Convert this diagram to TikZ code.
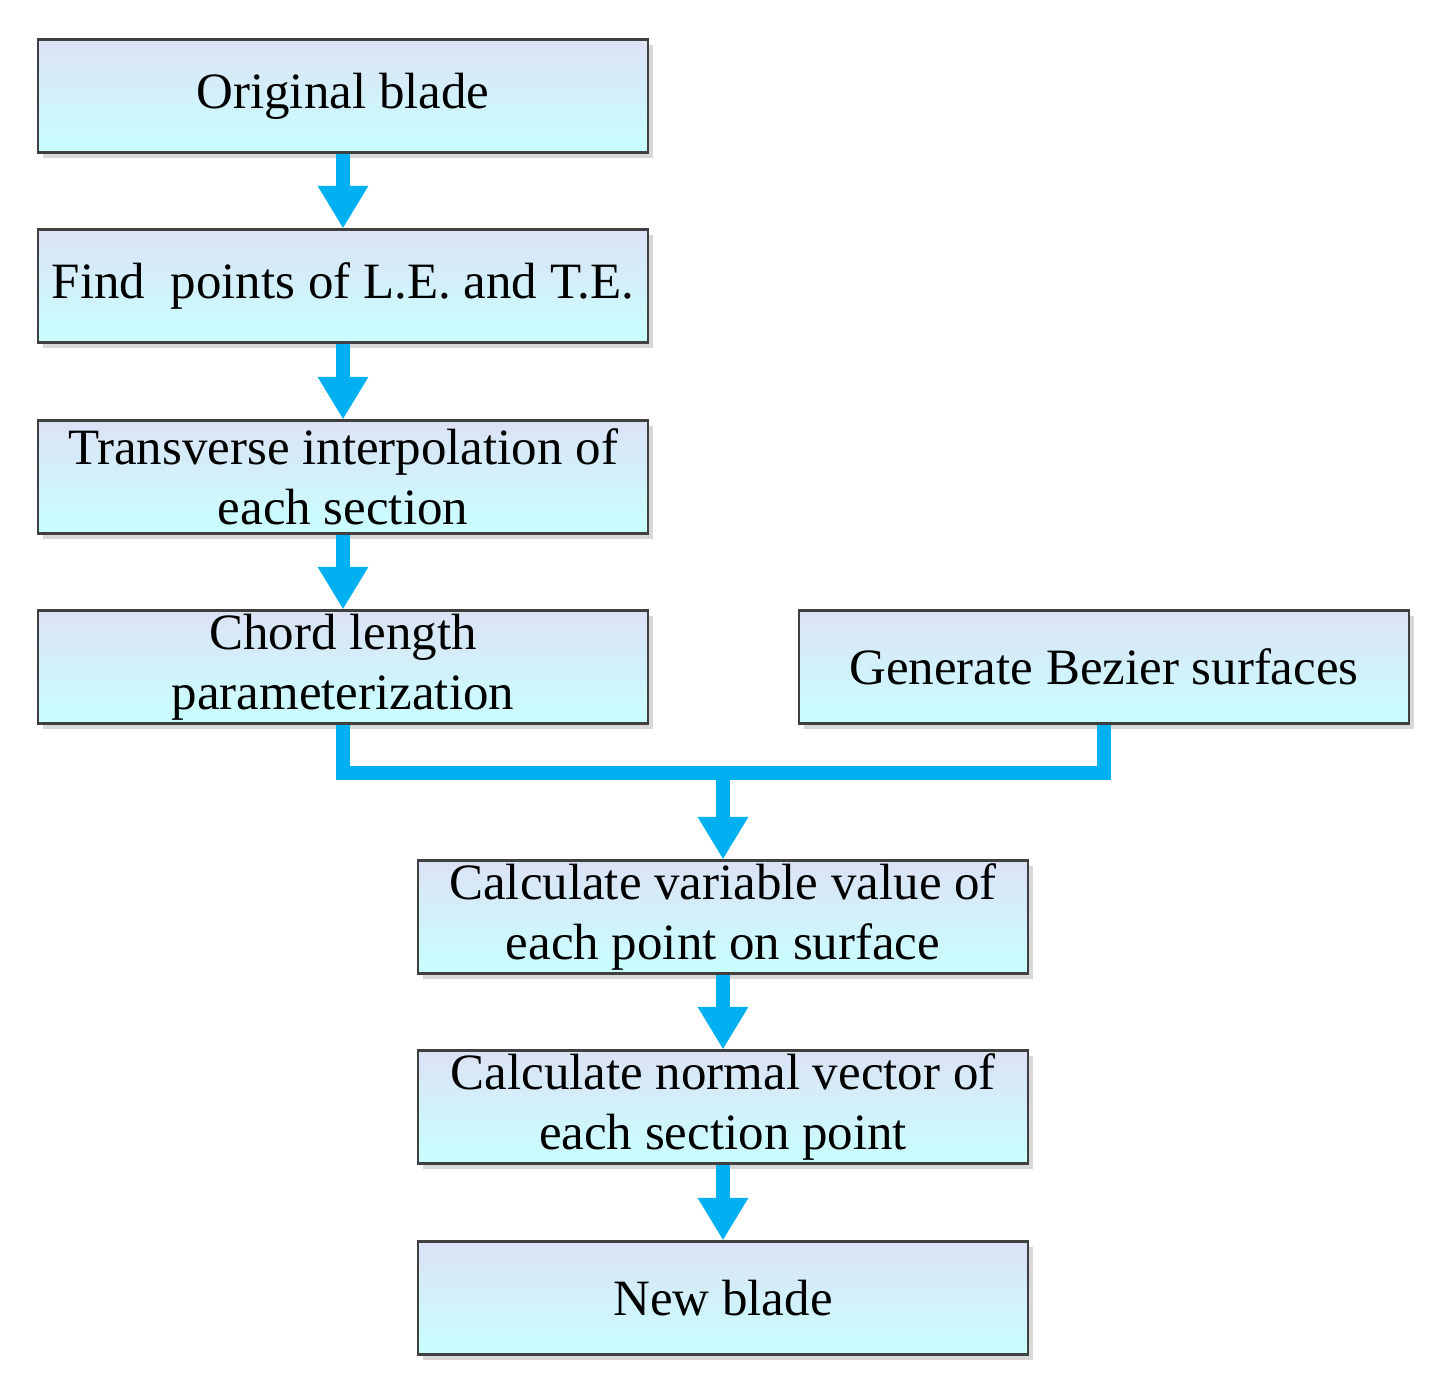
\documentclass[tikz,border=0pt]{standalone}
\usepackage{fontspec}
\setmainfont{Liberation Serif}
\usetikzlibrary{shadows,arrows.meta}
\definecolor{boxtop}{RGB}{220,226,245}
\definecolor{boxbot}{RGB}{200,255,255}
\definecolor{flow}{RGB}{0,176,240}
\tikzset{
  stage/.style={draw=black!75, line width=1.2pt, top color=boxtop, bottom color=boxbot,
    minimum width=12.2cm, minimum height=2.26cm, align=center, inner sep=0pt,
    font=\fontsize{29}{34}\selectfont,
    drop shadow={shadow xshift=3pt, shadow yshift=-3pt, fill=black!30}},
  go/.style={draw=flow, line width=8pt, -{Triangle[length=0.85cm,width=0.95cm]}},
  pipe/.style={draw=flow, line width=8pt}
}
\begin{document}
\begin{tikzpicture}[x=0.02cm,y=-0.02cm]
\useasboundingbox (0,0) rectangle (1446,1393);
\draw (343,96) node[stage] (orig) {Original blade};
\draw (343,286) node[stage] (find) {Find\ \ points of L.E. and T.E.};
\draw (343,477) node[stage] (trans) {Transverse interpolation of\\each section};
\draw (343,667) node[stage] (chord) {Chord length\\parameterization};
\draw (1104,667) node[stage] (bez) {Generate Bezier surfaces};
\draw (723,917) node[stage] (var) {Calculate variable value of\\each point on surface};
\draw (723,1107) node[stage] (norm) {Calculate normal vector of\\each section point};
\draw (723,1298) node[stage] (new) {New blade};
\coordinate (join) at (723,773);
\draw[go] (orig) to (find);
\draw[go] (find) to (trans);
\draw[go] (trans) to (chord);
\draw[pipe] (chord.south) |- (join) -| (bez.south);
\draw[go] (join) to (var.north);
\draw[go] (var) to (norm);
\draw[go] (norm) to (new);
\end{tikzpicture}
\end{document}
